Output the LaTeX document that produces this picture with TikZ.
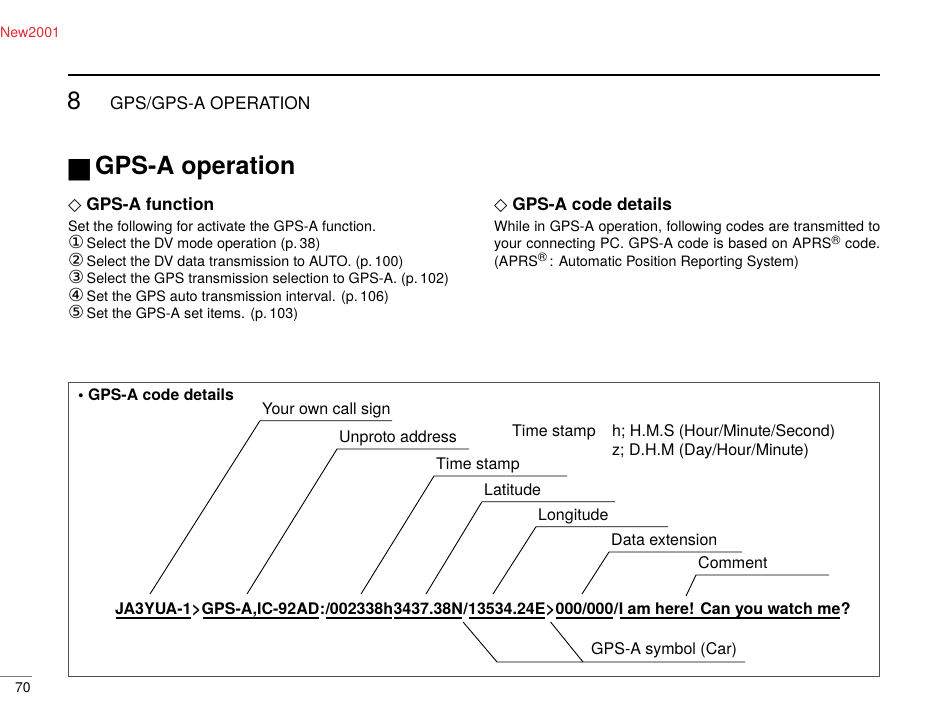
\documentclass[tikz,border=0pt]{standalone}
\usepackage{fontspec}
\setmainfont{TeX Gyre Heros}
\newfontfamily\symfont{DejaVu Sans}
\definecolor{pagered}{RGB}{226,42,52}
\definecolor{boxgray}{RGB}{80,80,80}
\newcommand\regmark{\raisebox{0.3em}{\fontsize{12.5}{12.5}\selectfont ®}}
\newcommand\circnum[1]{{\symfont\fontsize{18}{17.5}\selectfont #1}\,}

\begin{document}
\begin{tikzpicture}[x=1pt,y=-1pt]
  \tikzset{body/.style={anchor=base west,inner sep=0pt,font=\fontsize{14.3}{17.5}\selectfont},
    head/.style={anchor=base west,inner sep=0pt,font=\bfseries\fontsize{17.3}{20}\selectfont},
    tag/.style={anchor=south west,inner xsep=2pt,inner ysep=6pt,text depth=0pt,font=\fontsize{16}{19}\selectfont},
    note/.style={anchor=base west,inner sep=0pt,font=\fontsize{16}{19}\selectfont},
    code/.style={anchor=base west,inner sep=0pt,font=\bfseries\fontsize{16}{19}\selectfont},
    lead/.style={line width=0.9pt},
    uline/.style={line width=1.2pt}}
  \useasboundingbox (0,0) rectangle (950,721);

  % page head
  \node[anchor=base west,inner sep=0pt,text=pagered,font=\fontsize{14.2}{17}\selectfont] (new) at (0,37) {New2001};
  \draw[line width=2pt] (68,75) -- (880,75);
  \node[anchor=base west,inner sep=0pt,font=\fontsize{25}{30}\selectfont] (chap) at (67,109) {8};
  \node[anchor=base west,inner sep=0pt,font=\fontsize{17.3}{20}\selectfont] (chtitle) at (110,109) {GPS/GPS-A OPERATION};
  \node[anchor=base west,inner sep=0pt,font=\symfont\fontsize{28}{28}\selectfont] (sq) at (66,177) {■};
  \node[anchor=base west,inner sep=0pt,font=\bfseries\fontsize{25}{30}\selectfont] (title) at (95,174) {GPS-A operation};

  % left column
  \node[head] (fnhead) at (68,210) {{\symfont◇}\ GPS-A function};
  \foreach \txt [count=\i from 0] in {{Set the following for activate the GPS-A function.},
      {\circnum{①}Select the DV mode operation (p.\,38)},
      {\circnum{②}Select the DV data transmission to AUTO. (p.\,100)},
      {\circnum{③}Select the GPS transmission selection to GPS-A. (p.\,102)},
      {\circnum{④}Set the GPS auto transmission interval. (p.\,106)},
      {\circnum{⑤}Set the GPS-A set items. (p.\,103)}}
    \node[body] (fn\i) at (68,231+17.5*\i) {\txt};

  % right column
  \node[head] (cdhead) at (494,210) {{\symfont◇}\ GPS-A code details};
  \node[body] (cd0) at (494,231) {\makebox[386pt][s]{While in GPS-A operation, following codes are transmitted to}};
  \node[body] (cd1) at (494,248.5) {\makebox[386pt][s]{your connecting PC. GPS-A code is based on APRS\regmark{} code.}};
  \node[body] (cd2) at (494,266) {(APRS\regmark\,: Automatic Position Reporting System)};

  % code box
  \draw[boxgray,line width=1pt] (68,382) rectangle (879,676);
  \node[anchor=base west,inner sep=0pt,font=\bfseries\fontsize{15.8}{19}\selectfont] (boxhead) at (78,400) {\textbullet\ GPS-A code details};

  \node[tag] (own) at (260,420.7) {Your own call sign};
  \node[tag] (unp) at (337,449) {Unproto address};
  \node[tag] (tim) at (434,476) {Time stamp};
  \node[tag] (lat) at (482,501.7) {Latitude};
  \node[tag] (lon) at (536,526.7) {Longitude};
  \node[tag] (ext) at (609,552) {Data extension};
  \node[tag] (cmt) at (696,575) {Comment};

  \node[note] (tskey) at (512,436.5) {Time stamp};
  \node[note] (tsh) at (612,436.5) {h; H.M.S (Hour/Minute/Second)};
  \node[note] (tsz) at (612,455.5) {z; D.H.M (Day/Hour/Minute)};

  % the code line
  \node[code] (call) at (115,614) {JA3YUA-1};
  \node[code] (gt1) at (call.base east) {>};
  \node[code] (path) at (gt1.base east) {GPS-A,IC-92AD};
  \node[code] (colon) at (path.base east) {:};
  \node[code] (stamp) at (colon.base east) {/002338h};
  \node[code] (latv) at (stamp.base east) {3437.38N};
  \node[code] (sl1) at (latv.base east) {/};
  \node[code] (lonv) at (sl1.base east) {13534.24E};
  \node[code] (gt2) at (lonv.base east) {>};
  \node[code] (extv) at (gt2.base east) {000/000};
  \node[code] (sl2) at (extv.base east) {/};
  \node[code] (msg) at (sl2.base east) {I am here! Can you watch me};
  \node[code] (qm) at (msg.base east) {?};
  \foreach \n in {call,path,stamp,latv,lonv,extv,msg}
    \draw[uline] ([xshift=1pt,yshift=-4pt]\n.base west) -- ([xshift=-1pt,yshift=-4pt]\n.base east);

  % leaders
  \coordinate (f1) at (150,594);
  \coordinate (f2) at (247,594);
  \coordinate (f3) at (361,594);
  \coordinate (f4) at (426,594);
  \coordinate (f5) at (493,594);
  \coordinate (f6) at (582,594);
  \coordinate (f7) at (686,596);
  \draw[lead] (f1) -- (own.south west) -- ++(132,0);
  \draw[lead] (f2) -- (unp.south west) -- ++(132,0);
  \draw[lead] (f3) -- (tim.south west) -- ++(133,0);
  \draw[lead] (f4) -- (lat.south west) -- ++(133,0);
  \draw[lead] (f5) -- (lon.south west) -- ++(132,0);
  \draw[lead] (f6) -- (ext.south west) -- ++(133,0);
  \draw[lead] (f7) -- (cmt.south west) -- ++(133,0);

  \node[anchor=south west,inner xsep=8pt,inner ysep=7pt,text depth=0pt,font=\fontsize{16}{19}\selectfont] (sym) at (583,662) {GPS-A symbol (Car)};
  \coordinate (bend) at (497,662);
  \draw[lead] ([yshift=-8pt]latv.base east) -- (bend) -- ++(248,0);
  \draw[lead] ([yshift=-8pt]gt2.base) -- (sym.south west);

  % page number
  \draw[gray,line width=0.8pt] (0,676) -- (32,676);
  \node[anchor=base west,inner sep=0pt,font=\fontsize{14}{17}\selectfont] (page) at (15,692) {70};
\end{tikzpicture}
\end{document}
